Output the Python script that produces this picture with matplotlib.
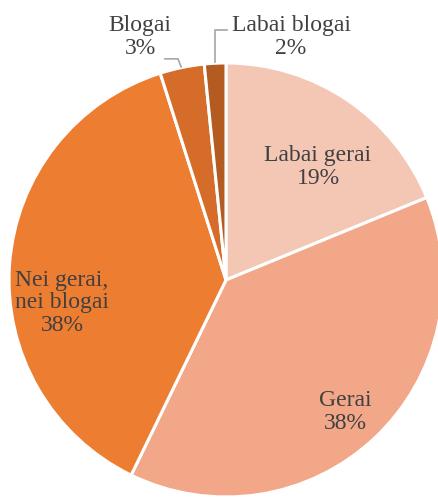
import matplotlib.pyplot as plt

# data (percent shares)
categories = ["Labai gerai", "Gerai", "Nei gerai,\nnei blogai", "Blogai", "Labai blogai"]
shares = [18.8, 38.4, 37.9, 3.3, 1.6]
colors = ['#F4C6B4', '#F1A788', '#ED7D31', '#D56C2A', '#B45B21']

plt.rcParams['font.family'] = ['Liberation Serif', 'DejaVu Serif']

fig = plt.figure(figsize=(4.38, 4.97), dpi=100)
ax = fig.add_axes([0, 0, 1, 1])

wedges, _ = ax.pie(shares, colors=colors, startangle=90, counterclock=False,
                   radius=1.0, center=(0, 0),
                   wedgeprops=dict(edgecolor='white', linewidth=2.2))

txt = dict(fontsize=17, color='#404040', ha='center', va='center', linespacing=1.1)

labels = [f"{c}\n{v:.0f}%" for c, v in zip(categories, shares)]
inside_pos = [(0.424, 0.521), (0.548, -0.608), (-0.756, -0.106)]
for lab, (x, y) in zip(labels[:3], inside_pos):
    ax.text(x, y, lab, **txt)

# small slices: labels outside with leader lines
ax.text(-0.396, 1.12, labels[3], **txt)
ax.text(0.30, 1.12, labels[4], **txt)
ax.plot([-0.281, -0.221, -0.207], [1.019, 1.019, 0.982], color='#A6A6A6', lw=1.2)
ax.plot([0.005, -0.051, -0.051], [1.152, 1.152, 1.005], color='#A6A6A6', lw=1.2)

ax.set_xlim(-1.0415, 0.977)
ax.set_ylim(-1.0, 1.290)
ax.set_aspect('equal')
ax.axis('off')

fig.savefig('out.png', dpi=100)
